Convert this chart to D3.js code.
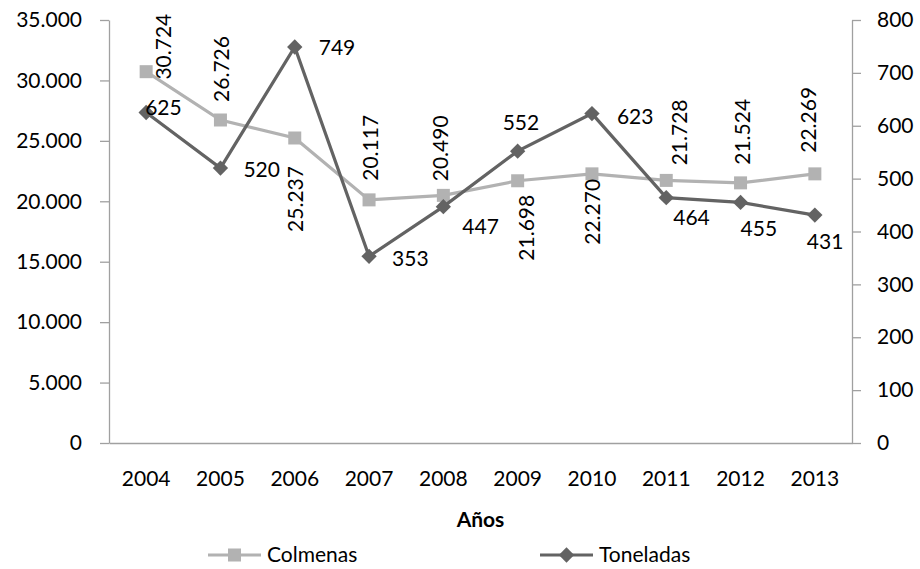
<!DOCTYPE html>
<meta charset="utf-8">
<style>
body { margin: 0; background: #fff; }
svg text { font-family: Lato, "Open Sans", sans-serif; fill: #000; }
.axis path, .axis line { stroke: #a0a0a0; stroke-width: 1.3; }
.axis text { font-size: 21px; }
</style>

<svg width="920" height="569"></svg>

<script src="https://cdn.jsdelivr.net/npm/d3@7"></script>
<script>

// data
var years = ["2004","2005","2006","2007","2008","2009","2010","2011","2012","2013"];
var colmenas  = [30724, 26726, 25237, 20117, 20490, 21698, 22270, 21728, 21524, 22269];
var toneladas = [625, 520, 749, 353, 447, 552, 623, 464, 455, 431];
var leftTicks  = [0, 5000, 10000, 15000, 20000, 25000, 30000, 35000];
var rightTicks = [0, 100, 200, 300, 400, 500, 600, 700, 800];

// label nudges (dx, dy) relative to each point
var colLabelNudge = [[17,-25],[1,-51],[1,61],[2,-52],[-3,-47],[9,47],[1,38],[13,-48],[2,-51],[-6,-54]];
var tonLabelNudge = [[-1,-5],[23,2],[24,1],[23,2],[19,20],[-15,-28],[25,3],[7,20],[0,26],[-8,27]];

var svg = d3.select("svg"),
  margin = {top: 20, right: 68, bottom: 126, left: 109},
  width = 920 - margin.left - margin.right,
  height = 569 - margin.top - margin.bottom;

var g = svg.append("g").attr("transform", "translate(" + margin.left + "," + margin.top + ")");

// spanish number format, dot as thousands sep
var es = d3.formatLocale({decimal: ",", thousands: ".", grouping: [3], currency: ["", "€"]});
var fmt = es.format(",d");

var x = d3.scaleBand().domain(years).range([0, width]);
var yL = d3.scaleLinear().domain([0, 35000]).range([height, 0]);
var yR = d3.scaleLinear().domain([0, 800]).range([height, 0]);

var colCol = "#b2b2b2", tonCol = "#636363";

// axes
g.append("g").attr("class", "axis")
  .call(d3.axisLeft(yL).tickValues(leftTicks).tickFormat(fmt).tickSize(9).tickSizeOuter(0).tickPadding(18));
g.append("g").attr("class", "axis")
  .attr("transform", "translate(" + width + ",0)")
  .call(d3.axisRight(yR).tickValues(rightTicks).tickSize(9).tickSizeOuter(0).tickPadding(16));
g.append("g").attr("class", "axis")
  .attr("transform", "translate(0," + height + ")")
  .call(d3.axisBottom(x).tickSize(0).tickPadding(28));

g.append("text")
  .attr("x", width / 2)
  .attr("y", height + 84)
  .attr("text-anchor", "middle")
  .style("font-size", "21px").style("font-weight", "bold")
  .text("Años");

var cx = function(i) { return x(years[i]) + x.bandwidth() / 2; };

var colPts = colmenas.map(function(v, i) { return [cx(i), yL(v)]; });
var tonPts = toneladas.map(function(v, i) { return [cx(i), yR(v)]; });

// Colmenas line + squares
g.append("path").datum(colPts)
  .attr("fill", "none").attr("stroke", colCol).attr("stroke-width", 3.2)
  .attr("d", d3.line());
g.selectAll("rect.col").data(colPts).enter().append("rect")
  .attr("class", "col")
  .attr("x", function(d) { return d[0] - 6.5; })
  .attr("y", function(d) { return d[1] - 6.5; })
  .attr("width", 13).attr("height", 13)
  .attr("fill", colCol);

// Toneladas line + diamonds
g.append("path").datum(tonPts)
  .attr("fill", "none").attr("stroke", tonCol).attr("stroke-width", 3.2)
  .attr("d", d3.line());
var diamond = d3.symbol().type(d3.symbolDiamond2).size(150);
g.selectAll("path.ton").data(tonPts).enter().append("path")
  .attr("class", "ton")
  .attr("transform", function(d) { return "translate(" + d[0] + "," + d[1] + ")"; })
  .attr("d", diamond)
  .attr("fill", tonCol);

// data labels
g.selectAll("text.collab").data(colPts).enter().append("text")
  .attr("class", "collab")
  .attr("transform", function(d, i) {
    return "translate(" + (d[0] + colLabelNudge[i][0]) + "," + (d[1] + colLabelNudge[i][1]) + ") rotate(-90)";
  })
  .attr("text-anchor", "middle")
  .attr("dy", "0.35em")
  .style("font-size", "21px")
  .text(function(d, i) { return fmt(colmenas[i]); });

g.selectAll("text.tonlab").data(tonPts).enter().append("text")
  .attr("class", "tonlab")
  .attr("x", function(d, i) { return d[0] + tonLabelNudge[i][0]; })
  .attr("y", function(d, i) { return d[1] + tonLabelNudge[i][1]; })
  .attr("dy", "0.35em")
  .style("font-size", "21px")
  .text(function(d, i) { return toneladas[i]; });

// legend
var legend = svg.append("g").attr("transform", "translate(0,555)");
var leg = [
  {name: "Colmenas", color: colCol, x0: 208, kind: "square"},
  {name: "Toneladas", color: tonCol, x0: 540, kind: "diamond"}
];
leg.forEach(function(l) {
  legend.append("line")
    .attr("x1", l.x0).attr("x2", l.x0 + 53)
    .attr("stroke", l.color).attr("stroke-width", 3.2);
  if (l.kind === "square") {
    legend.append("rect").attr("x", l.x0 + 20).attr("y", -6.5)
      .attr("width", 13).attr("height", 13).attr("fill", l.color);
  } else {
    legend.append("path").attr("transform", "translate(" + (l.x0 + 26.5) + ",0)")
      .attr("d", diamond).attr("fill", l.color);
  }
  legend.append("text")
    .attr("x", l.x0 + 59).attr("dy", "0.35em")
    .style("font-size", "21px")
    .text(l.name);
});

</script>
